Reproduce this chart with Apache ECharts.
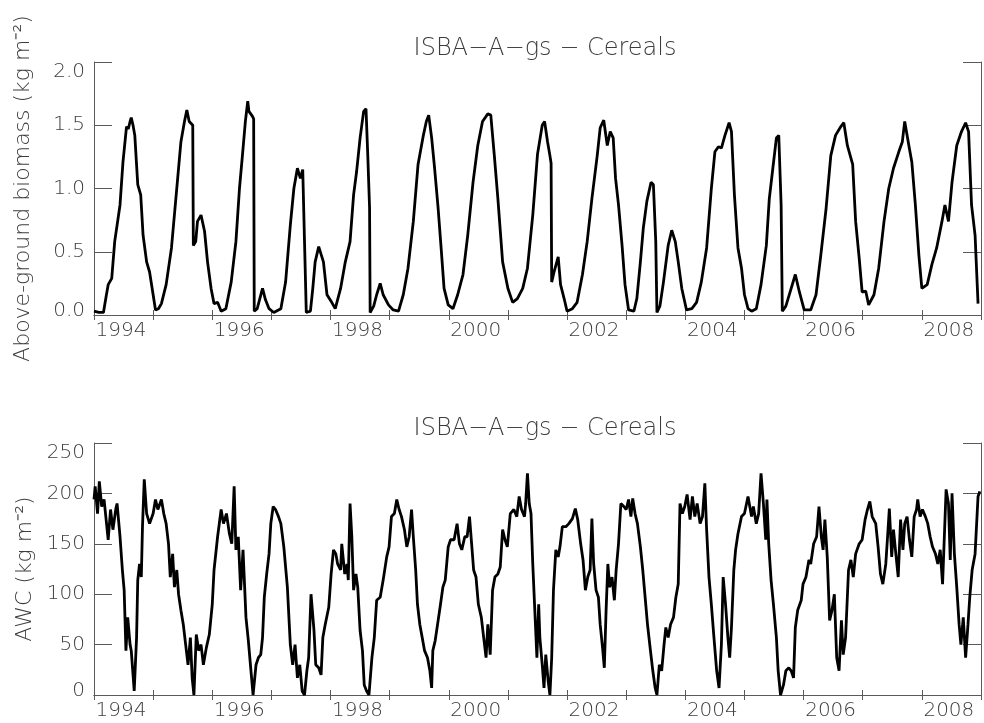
<!DOCTYPE html>
<html>
<head>
<meta charset="utf-8">
<script src="https://cdn.jsdelivr.net/npm/echarts@6/dist/echarts.min.js"></script>
<style>html,body{margin:0;padding:0;background:#fff;}#c{width:984px;height:723px;}</style>
</head>
<body>
<div id="c"></div>
<script>
// ---- data (decimal year, value) ----
const panelTitles = ['ISBA\u2212A\u2212gs \u2212 Cereals', 'ISBA\u2212A\u2212gs \u2212 Cereals'];
const biomassName = 'Above-ground biomass (kg m\u207B\u00B2)';
const awcName = 'AWC (kg m\u207B\u00B2)';
const yearRange = [1994, 2009];
const biomassRange = [0, 2];
const awcRange = [0, 250];

const biomass = [
[1994.00,0.03],[1994.08,0.02],[1994.16,0.02],[1994.21,0.16],[1994.24,0.24],[1994.30,0.29],[1994.35,0.58],[1994.44,0.87],[1994.49,1.21],[1994.55,1.49],[1994.58,1.47],[1994.61,1.53],[1994.63,1.56],[1994.66,1.50],[1994.69,1.42],[1994.74,1.03],[1994.77,1.02],[1994.79,0.95],[1994.83,0.63],[1994.89,0.42],[1994.94,0.34],[1995.00,0.16],[1995.04,0.04],[1995.09,0.05],[1995.14,0.09],[1995.22,0.24],[1995.31,0.53],[1995.39,0.95],[1995.47,1.37],[1995.53,1.53],[1995.57,1.62],[1995.61,1.53],[1995.67,1.50],[1995.68,0.55],[1995.72,0.58],[1995.75,0.74],[1995.81,0.79],[1995.87,0.66],[1995.92,0.42],[1995.98,0.21],[1996.03,0.09],[1996.09,0.10],[1996.15,0.03],[1996.23,0.05],[1996.32,0.26],[1996.40,0.58],[1996.46,1.00],[1996.51,1.26],[1996.56,1.53],[1996.60,1.69],[1996.62,1.61],[1996.68,1.57],[1996.70,1.55],[1996.71,0.03],[1996.76,0.05],[1996.85,0.21],[1996.90,0.12],[1996.96,0.05],[1997.04,0.02],[1997.16,0.05],[1997.24,0.26],[1997.32,0.71],[1997.38,1.00],[1997.44,1.16],[1997.49,1.08],[1997.53,1.15],[1997.56,0.58],[1997.59,0.02],[1997.66,0.03],[1997.70,0.21],[1997.74,0.42],[1997.80,0.54],[1997.88,0.42],[1997.94,0.16],[1998.02,0.10],[1998.08,0.05],[1998.17,0.21],[1998.25,0.42],[1998.33,0.58],[1998.39,0.95],[1998.44,1.13],[1998.50,1.40],[1998.56,1.61],[1998.60,1.63],[1998.63,1.26],[1998.66,0.85],[1998.67,0.02],[1998.73,0.07],[1998.78,0.16],[1998.84,0.25],[1998.89,0.16],[1998.98,0.08],[1999.06,0.04],[1999.15,0.03],[1999.23,0.16],[1999.31,0.37],[1999.40,0.74],[1999.48,1.19],[1999.57,1.42],[1999.62,1.53],[1999.66,1.58],[1999.71,1.40],[1999.76,1.16],[1999.82,0.84],[1999.87,0.53],[1999.92,0.21],[1999.99,0.08],[2000.07,0.05],[2000.15,0.16],[2000.24,0.32],[2000.32,0.63],[2000.41,1.05],[2000.49,1.34],[2000.57,1.53],[2000.66,1.59],[2000.71,1.58],[2000.77,1.26],[2000.83,0.92],[2000.91,0.42],[2001.00,0.21],[2001.08,0.10],[2001.16,0.13],[2001.25,0.21],[2001.33,0.37],[2001.42,0.79],[2001.50,1.27],[2001.58,1.50],[2001.62,1.53],[2001.67,1.37],[2001.71,1.26],[2001.73,1.20],[2001.74,0.26],[2001.78,0.34],[2001.85,0.46],[2001.89,0.24],[2001.95,0.13],[2002.00,0.03],[2002.09,0.05],[2002.17,0.10],[2002.26,0.32],[2002.34,0.58],[2002.42,0.92],[2002.51,1.26],[2002.56,1.48],[2002.62,1.54],[2002.68,1.34],[2002.73,1.45],[2002.78,1.40],[2002.82,1.08],[2002.87,0.87],[2002.93,0.55],[2002.98,0.24],[2003.04,0.04],[2003.13,0.03],[2003.18,0.13],[2003.24,0.42],[2003.29,0.69],[2003.35,0.90],[2003.42,1.05],[2003.46,1.03],[2003.50,0.58],[2003.52,0.02],[2003.57,0.07],[2003.63,0.26],[2003.71,0.55],[2003.77,0.67],[2003.83,0.58],[2003.88,0.42],[2003.94,0.21],[2004.02,0.04],[2004.11,0.05],[2004.19,0.10],[2004.27,0.26],[2004.36,0.53],[2004.44,1.00],[2004.50,1.29],[2004.56,1.33],[2004.61,1.32],[2004.67,1.42],[2004.74,1.52],[2004.78,1.45],[2004.83,0.95],[2004.89,0.53],[2004.95,0.37],[2005.00,0.16],[2005.06,0.05],[2005.12,0.03],[2005.20,0.05],[2005.28,0.24],[2005.37,0.55],[2005.42,0.92],[2005.48,1.16],[2005.54,1.40],[2005.58,1.42],[2005.62,0.87],[2005.64,0.03],[2005.70,0.07],[2005.79,0.21],[2005.86,0.32],[2005.93,0.18],[2006.01,0.04],[2006.12,0.04],[2006.21,0.16],[2006.29,0.47],[2006.38,0.84],[2006.46,1.26],[2006.54,1.42],[2006.63,1.49],[2006.68,1.52],[2006.74,1.34],[2006.83,1.19],[2006.88,0.74],[2006.94,0.45],[2006.99,0.18],[2007.05,0.19],[2007.10,0.08],[2007.19,0.16],[2007.27,0.37],[2007.36,0.74],[2007.44,1.00],[2007.52,1.16],[2007.61,1.29],[2007.67,1.37],[2007.71,1.53],[2007.78,1.34],[2007.83,1.21],[2007.89,0.87],[2007.95,0.47],[2008.00,0.21],[2008.09,0.24],[2008.17,0.40],[2008.25,0.53],[2008.34,0.74],[2008.39,0.87],[2008.45,0.74],[2008.51,1.05],[2008.59,1.34],[2008.67,1.45],[2008.74,1.52],[2008.79,1.45],[2008.84,0.87],[2008.90,0.63],[2008.95,0.09]
];

const awc = [
[1994.00,194],[1994.02,207],[1994.06,180],[1994.09,212],[1994.13,187],[1994.17,194],[1994.20,177],[1994.24,154],[1994.28,184],[1994.32,164],[1994.37,185],[1994.39,190],[1994.44,157],[1994.48,124],[1994.51,104],[1994.54,44],[1994.57,77],[1994.61,50],[1994.63,44],[1994.68,4],[1994.72,57],[1994.74,114],[1994.77,130],[1994.80,117],[1994.82,167],[1994.85,214],[1994.89,180],[1994.94,170],[1995.00,180],[1995.04,194],[1995.08,184],[1995.14,194],[1995.18,180],[1995.22,170],[1995.26,150],[1995.29,117],[1995.33,140],[1995.36,107],[1995.40,124],[1995.43,100],[1995.47,84],[1995.51,70],[1995.55,50],[1995.59,30],[1995.63,57],[1995.66,17],[1995.69,0],[1995.73,60],[1995.77,44],[1995.81,50],[1995.85,30],[1995.90,47],[1995.95,60],[1996.00,90],[1996.03,124],[1996.09,157],[1996.15,184],[1996.19,170],[1996.24,180],[1996.29,160],[1996.33,150],[1996.37,207],[1996.40,144],[1996.44,157],[1996.48,104],[1996.52,144],[1996.57,77],[1996.61,54],[1996.65,27],[1996.69,0],[1996.74,30],[1996.78,37],[1996.82,40],[1996.85,57],[1996.88,97],[1996.92,120],[1996.96,140],[1996.99,170],[1997.03,187],[1997.07,184],[1997.12,177],[1997.16,170],[1997.21,147],[1997.27,107],[1997.32,50],[1997.36,30],[1997.40,50],[1997.44,17],[1997.48,30],[1997.52,4],[1997.56,0],[1997.60,24],[1997.63,37],[1997.67,100],[1997.72,64],[1997.75,30],[1997.80,27],[1997.84,20],[1997.87,57],[1997.91,70],[1997.97,87],[1998.01,120],[1998.05,144],[1998.09,140],[1998.12,130],[1998.17,124],[1998.19,150],[1998.24,120],[1998.28,130],[1998.30,114],[1998.33,190],[1998.36,157],[1998.39,104],[1998.43,120],[1998.46,107],[1998.50,64],[1998.54,44],[1998.57,10],[1998.61,4],[1998.65,0],[1998.70,37],[1998.74,57],[1998.78,94],[1998.84,97],[1998.89,114],[1998.95,137],[1998.99,147],[1999.03,177],[1999.08,180],[1999.12,194],[1999.16,184],[1999.20,177],[1999.25,164],[1999.29,147],[1999.33,157],[1999.37,184],[1999.40,157],[1999.44,124],[1999.47,90],[1999.51,70],[1999.55,57],[1999.59,44],[1999.64,37],[1999.68,24],[1999.71,7],[1999.73,44],[1999.77,54],[1999.82,74],[1999.86,90],[1999.90,107],[1999.94,114],[1999.99,147],[2000.03,154],[2000.09,154],[2000.14,170],[2000.18,150],[2000.22,144],[2000.27,157],[2000.31,157],[2000.35,177],[2000.39,147],[2000.42,124],[2000.46,117],[2000.50,90],[2000.55,77],[2000.59,57],[2000.63,37],[2000.66,70],[2000.70,40],[2000.74,104],[2000.78,117],[2000.83,120],[2000.87,127],[2000.91,164],[2000.95,154],[2000.99,147],[2001.04,180],[2001.10,184],[2001.15,177],[2001.19,197],[2001.23,184],[2001.28,177],[2001.30,190],[2001.33,220],[2001.36,190],[2001.39,180],[2001.42,130],[2001.45,90],[2001.49,37],[2001.52,90],[2001.54,57],[2001.58,30],[2001.61,7],[2001.64,40],[2001.68,14],[2001.71,0],[2001.74,37],[2001.77,104],[2001.81,144],[2001.85,137],[2001.88,147],[2001.92,167],[2001.98,167],[2002.03,170],[2002.09,175],[2002.14,185],[2002.18,174],[2002.23,150],[2002.27,134],[2002.31,104],[2002.35,117],[2002.39,124],[2002.42,175],[2002.45,130],[2002.49,104],[2002.53,97],[2002.56,70],[2002.60,47],[2002.63,27],[2002.66,84],[2002.69,130],[2002.72,107],[2002.76,117],[2002.80,94],[2002.83,124],[2002.87,150],[2002.91,190],[2002.96,187],[2003.00,184],[2003.04,194],[2003.08,177],[2003.11,195],[2003.15,180],[2003.19,170],[2003.24,147],[2003.28,124],[2003.32,97],[2003.36,70],[2003.41,44],[2003.45,24],[2003.49,7],[2003.52,0],[2003.56,30],[2003.60,24],[2003.64,50],[2003.67,67],[2003.71,57],[2003.75,70],[2003.80,77],[2003.84,97],[2003.88,110],[2003.91,190],[2003.95,180],[2003.99,187],[2004.03,199],[2004.08,174],[2004.12,197],[2004.16,177],[2004.20,190],[2004.25,170],[2004.29,177],[2004.33,210],[2004.36,164],[2004.40,117],[2004.44,90],[2004.48,60],[2004.53,24],[2004.57,7],[2004.61,50],[2004.64,117],[2004.68,90],[2004.72,57],[2004.75,37],[2004.78,67],[2004.82,124],[2004.85,144],[2004.89,160],[2004.95,177],[2005.00,180],[2005.06,197],[2005.12,177],[2005.15,187],[2005.20,170],[2005.24,180],[2005.28,220],[2005.32,190],[2005.36,154],[2005.38,194],[2005.41,150],[2005.45,114],[2005.49,90],[2005.54,57],[2005.57,24],[2005.61,0],[2005.66,10],[2005.70,24],[2005.75,27],[2005.79,24],[2005.83,17],[2005.86,67],[2005.90,84],[2005.96,94],[2005.99,110],[2006.04,117],[2006.09,134],[2006.12,130],[2006.17,150],[2006.22,157],[2006.26,187],[2006.30,157],[2006.33,144],[2006.36,174],[2006.40,137],[2006.44,74],[2006.48,84],[2006.52,100],[2006.56,37],[2006.60,24],[2006.64,74],[2006.67,40],[2006.71,57],[2006.76,124],[2006.80,134],[2006.84,117],[2006.88,140],[2006.94,150],[2006.99,154],[2007.04,174],[2007.08,184],[2007.12,192],[2007.16,177],[2007.22,170],[2007.26,147],[2007.30,120],[2007.34,110],[2007.39,130],[2007.42,157],[2007.45,185],[2007.49,137],[2007.52,164],[2007.56,140],[2007.60,117],[2007.64,174],[2007.68,144],[2007.71,170],[2007.75,177],[2007.79,154],[2007.83,137],[2007.87,177],[2007.91,184],[2007.93,194],[2007.97,177],[2008.01,184],[2008.06,177],[2008.10,170],[2008.14,157],[2008.18,147],[2008.23,140],[2008.27,130],[2008.31,144],[2008.35,110],[2008.38,110],[2008.41,204],[2008.45,190],[2008.48,134],[2008.51,200],[2008.55,140],[2008.59,107],[2008.63,70],[2008.66,50],[2008.70,77],[2008.74,37],[2008.78,70],[2008.81,97],[2008.85,124],[2008.90,140],[2008.95,197],[2008.98,202]
];

// ---- styling ----
const FONT = 'DejaVu Sans';
const TXT = '#3c3c3c';
const AX = '#5a5a5a';
const chart = echarts.init(document.getElementById('c'), null, {renderer: 'canvas'});

function xAxes(gi) {
  const base = {
    gridIndex: gi, type: 'value', min: yearRange[0], max: yearRange[1], interval: 1,
    axisLine: {lineStyle: {color: AX, width: 1}},
    axisTick: {inside: true, length: 5, lineStyle: {color: AX}},
    splitLine: {show: false}
  };
  return [
    Object.assign({}, base, {position: 'bottom',
      axisLabel: {show: true, margin: 6, fontFamily: FONT, fontSize: 20, color: TXT, fontWeight: 200,
        padding: [0, 0, 0, 54], hideOverlap: false,
        formatter: v => (v % 2 === 0 && v < yearRange[1]) ? String(v) : ''}}),
    Object.assign({}, base, {position: 'top', axisLabel: {show: false}})
  ];
}
function yAxes(gi, range, interval, dec, name, gap) {
  const lab = v => v.toFixed(dec);
  const rs = {fontFamily: FONT, fontSize: 20, color: TXT, fontWeight: 200};
  const base = {
    gridIndex: gi, type: 'value', min: range[0], max: range[1], interval: interval,
    axisLine: {show: true, lineStyle: {color: AX, width: 1}},
    axisTick: {show: true, inside: true, length: 18, lineStyle: {color: AX}},
    splitLine: {show: false}
  };
  return [
    Object.assign({}, base, {position: 'left',
      name: name, nameLocation: 'middle', nameGap: gap, nameRotate: 90,
      nameTextStyle: {fontFamily: FONT, fontSize: 22, color: TXT, fontWeight: 200},
      axisLabel: {show: true, margin: 9, fontFamily: FONT, fontSize: 20, color: TXT, fontWeight: 200,
        formatter: v => v === range[1] ? '{mx|' + lab(v) + '}' : (v === range[0] ? '{mn|' + lab(v) + '}' : lab(v)),
        rich: {mx: Object.assign({padding: [20, 0, 0, 0]}, rs), mn: Object.assign({padding: [0, 0, 8, 0]}, rs)}}}),
    Object.assign({}, base, {position: 'right', axisLabel: {show: false}})
  ];
}

const option = {
  backgroundColor: '#fff',
  animation: false,
  title: [
    {text: panelTitles[0], left: 540, top: 32, textAlign: 'center',
     textStyle: {fontFamily: FONT, fontSize: 24, fontWeight: 200, color: TXT}},
    {text: panelTitles[1], left: 540, top: 412, textAlign: 'center',
     textStyle: {fontFamily: FONT, fontSize: 24, fontWeight: 200, color: TXT}}
  ],
  grid: [
    {left: 94, top: 62, width: 892, height: 253, containLabel: false},
    {left: 94, top: 443, width: 892, height: 252, containLabel: false}
  ],
  xAxis: xAxes(0).concat(xAxes(1)),
  yAxis: yAxes(0, biomassRange, 0.5, 1, biomassName, 60).concat(yAxes(1, awcRange, 50, 0, awcName, 52)),
  series: [
    {type: 'line', xAxisIndex: 0, yAxisIndex: 0, data: biomass, showSymbol: false, symbol: 'none',
     lineStyle: {color: '#000', width: 2.8}, clip: true},
    {type: 'line', xAxisIndex: 2, yAxisIndex: 2, data: awc, showSymbol: false, symbol: 'none',
     lineStyle: {color: '#000', width: 2.8}, clip: true}
  ]
};
chart.setOption(option);
</script>
</body>
</html>
